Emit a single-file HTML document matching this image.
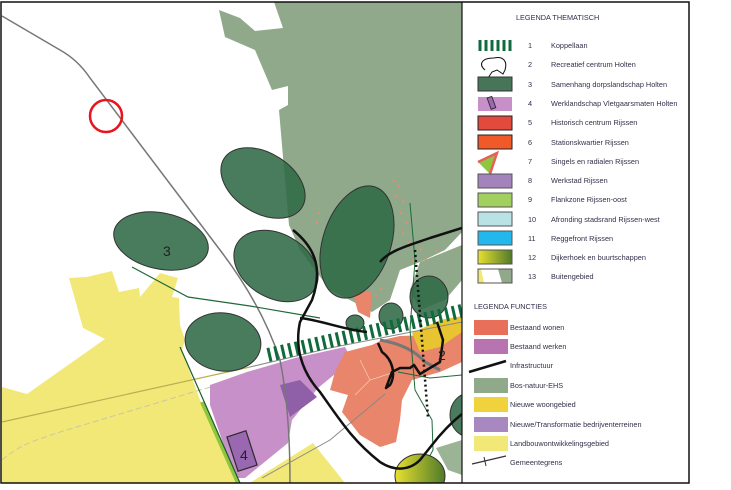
<!DOCTYPE html>
<html><head><meta charset="utf-8"><style>
html,body{margin:0;padding:0;background:#fff;}
svg{display:block;font-family:"Liberation Sans",sans-serif;}
.t{font-size:7.3px;fill:#332f4a;}
</style></head><body>
<svg width="731" height="490" viewBox="0 0 731 490" xmlns="http://www.w3.org/2000/svg">
<defs>
<linearGradient id="g12" x1="0" x2="1"><stop offset="0" stop-color="#e8e030"/><stop offset="1" stop-color="#4f7a2a"/></linearGradient>
<clipPath id="map"><rect x="1" y="2" width="461" height="481"/></clipPath>
</defs>
<rect width="731" height="490" fill="#fff"/>
<g clip-path="url(#map)">
<polygon fill="#8fa98a" points="274,2 462,2 462,232 445,250 420,262 400,270 390,300 372,312 350,300 330,290 300,250 289,225 283,157 279,110 288,105 288,86 272,90 255,50 225,37 219,10 240,18 255,31 283,28"/>
<polygon fill="#8fa98a" points="420,262 462,245 462,280 445,300 420,310 410,290"/>
<polygon fill="#9cb496" points="436,448 462,440 462,475 448,470"/>
<polygon fill="#f2e878" points="69,278 87,277 112,271 119,292 139,288 140,297 160,273 178,278 172,297 179,298 180,325 185,340 182,350 200,400 240,483 2,483 2,387 27,394 105,339 83,328"/>
<polygon fill="#f2e878" points="262,475 313,443 345,483 250,483"/>
<line x1="2" y1="422" x2="250" y2="367" stroke="#b8ae50" stroke-width="1.2"/>
<path d="M2,460 C20,445 30,442 60,432 L200,390 L345,350" fill="none" stroke="#c8c8a0" stroke-width="1" stroke-dasharray="6,3"/>
<polygon fill="#c890c8" points="210,385 247,372 295,358 345,347 352,360 318,388 292,420 288,443 245,478 235,478 210,405"/>
<polygon fill="#8f60a8" points="280,385 300,380 317,397 290,417"/>
<rect x="232" y="433" width="20" height="36" fill="#9a68b0" stroke="#2a2a2a" stroke-width="1.2" transform="rotate(-18 242 451)"/>
<polygon fill="#e8856a" points="345,352 372,345 382,340 400,336 430,335 445,330 462,325 462,362 440,372 412,380 402,400 400,420 396,442 380,447 360,435 342,412 348,395 330,390 335,372"/>
<polygon fill="#e8c431" points="412,333 440,320 462,316 462,332 440,347 420,352"/>
<polygon fill="#e8856a" points="352,290 372,292 370,318 358,312"/>
<path d="M360,360 L370,380 L355,395 M370,380 L395,372" stroke="#f4c8b8" stroke-width="0.8" fill="none"/>
<g fill="#ec8a68">
<rect x="393" y="180" width="2" height="2"/><rect x="398" y="185" width="2" height="2"/><rect x="395" y="195" width="2" height="2"/><rect x="402" y="200" width="2" height="2"/><rect x="400" y="212" width="2" height="2"/><rect x="405" y="222" width="2" height="2"/><rect x="402" y="232" width="2" height="2"/><rect x="407" y="242" width="2" height="2"/><rect x="342" y="200" width="2" height="2"/><rect x="335" y="215" width="2" height="2"/><rect x="330" y="230" width="2" height="2"/><rect x="316" y="222" width="2" height="2"/><rect x="318" y="212" width="2" height="2"/><rect x="385" y="205" width="2" height="2"/><rect x="388" y="225" width="2" height="2"/><rect x="390" y="245" width="2" height="2"/><rect x="420" y="248" width="2" height="2"/><rect x="425" y="258" width="2" height="2"/><rect x="435" y="250" width="2" height="2"/><rect x="380" y="288" width="2" height="2"/><rect x="375" y="295" width="2" height="2"/><rect x="412" y="260" width="2" height="2"/>
</g>
<path d="M2,16 L60,50 Q78,60 90,78 L220,250 Q262,305 280,360 Q290,410 290,483" fill="none" stroke="#777" stroke-width="1.5"/>
<path d="M250,367 L330,348 L462,322" fill="none" stroke="#888" stroke-width="1"/>
<path d="M262,478 L330,440 L385,394" fill="none" stroke="#888" stroke-width="1"/>
<path d="M380,340 Q410,345 425,362 L440,370" fill="none" stroke="#777" stroke-width="3"/>
<path d="M132,267 L188,297 L250,306 L320,318" fill="none" stroke="#1f6a3a" stroke-width="1.2"/>
<line x1="202" y1="402" x2="238" y2="483" stroke="#8dc63f" stroke-width="4"/>
<line x1="180" y1="347" x2="240" y2="483" stroke="#1f5a30" stroke-width="1.2"/>
<path d="M410,203 L415,260 L410,330 L415,390 L432,420 L433,450 L415,483" fill="none" stroke="#1f6a3a" stroke-width="1"/>
<path d="M398,372 L430,378 L462,375" fill="none" stroke="#1f6a3a" stroke-width="1"/>
<g fill="#2f6a46" fill-opacity="0.88" stroke="#333" stroke-width="1">
<ellipse cx="263" cy="183" rx="46" ry="30" transform="rotate(32 263 183)"/>
<ellipse cx="161" cy="241" rx="48" ry="28" transform="rotate(12 161 241)"/>
<ellipse cx="276" cy="266" rx="45" ry="32" transform="rotate(30 276 266)"/>
<ellipse cx="357" cy="242" rx="34" ry="58" transform="rotate(18 357 242)"/>
<ellipse cx="223" cy="342" rx="38" ry="29" transform="rotate(8 223 342)"/>
<ellipse cx="355" cy="323" rx="9" ry="8"/>
<ellipse cx="391" cy="316" rx="12" ry="13"/>
<ellipse cx="429" cy="297" rx="19" ry="21"/>
<ellipse cx="470" cy="415" rx="20" ry="22"/>
</g>
<ellipse cx="420" cy="476" rx="25" ry="22" fill="url(#g12)" stroke="#333" stroke-width="1"/>
<line x1="268" y1="355" x2="462" y2="311" stroke="#106b3c" stroke-width="14" stroke-dasharray="3,4"/>
<g fill="none" stroke="#111" stroke-width="2.5" stroke-linejoin="round">
<path d="M293,230 C318,250 322,272 312,300 L300,322 C295,345 300,370 320,392 C340,420 352,440 380,462 C395,472 410,470 420,460 L432,445 C442,432 452,422 462,414"/>
<path d="M300,318 C320,320 345,330 367,332"/>
<path d="M380,262 C390,250 410,245 430,238 L462,228"/>
<path d="M378,343 L382,352 C393,360 396,375 390,385 L386,388 L392,372 L400,368 L410,368 L414,365 L420,374 L440,362 L443,340 L437,322"/>
</g>
<line x1="415" y1="250" x2="428" y2="418" stroke="#111" stroke-width="2.5" stroke-dasharray="2,3"/>
<text x="163" y="256" font-size="14" fill="#222">3</text>
<text x="240" y="460" font-size="14" fill="#222">4</text>
<text x="438" y="360" font-size="14" fill="#222">2</text>
<circle cx="106" cy="116" r="16" fill="none" stroke="#e8141e" stroke-width="2.5"/>
</g>
<rect x="1" y="2" width="688" height="481" fill="none" stroke="#111" stroke-width="1.5"/>
<line x1="462" y1="2" x2="462" y2="483" stroke="#111" stroke-width="1.2"/>
<text class="t" x="516" y="20">LEGENDA THEMATISCH</text>
<g stroke="#106b3c" stroke-width="3"><line x1="480" y1="40" x2="480" y2="51"/><line x1="486" y1="40" x2="486" y2="51"/><line x1="492" y1="40" x2="492" y2="51"/><line x1="498" y1="40" x2="498" y2="51"/><line x1="504" y1="40" x2="504" y2="51"/><line x1="510" y1="40" x2="510" y2="51"/></g>
<path d="M485,70 C478,64 482,58 494,58 C502,56 508,60 505,70 L503,74 L497,70 L492,72 L488,78" fill="none" stroke="#111" stroke-width="1"/>
<rect x="478" y="77" width="34" height="14" fill="#477558" stroke="#333"/>
<rect x="478" y="97" width="34" height="14" fill="#c890c8"/>
<rect x="489" y="97" width="5" height="12" fill="#9a68b0" stroke="#222" stroke-width="0.8" transform="rotate(-20 491 103)"/>
<rect x="478" y="116" width="34" height="14" fill="#e24a3c" stroke="#222"/>
<rect x="478" y="135" width="34" height="14" fill="#f05a28" stroke="#222"/>
<polygon points="478,162 497,153 490,174" fill="#8dc63f"/>
<path d="M478,162 L497,153 L490,174" fill="none" stroke="#e8605a" stroke-width="2.5"/>
<rect x="478" y="174" width="34" height="14" fill="#a283bc" stroke="#555"/>
<rect x="478" y="193" width="34" height="14" fill="#a2d060" stroke="#555"/>
<rect x="478" y="212" width="34" height="14" fill="#b8e2e6" stroke="#555"/>
<rect x="478" y="231" width="34" height="14" fill="#22b8ee" stroke="#555"/>
<rect x="478" y="250" width="34" height="14" fill="url(#g12)" stroke="#555"/>
<rect x="478" y="269" width="34" height="14" fill="#8fa98a" stroke="#555"/>
<polygon points="478,269 498,269 502,283 483,283" fill="#fff"/>
<polygon points="478,269 481,269 484,283 478,283" fill="#f2e878"/>
<rect x="478" y="269" width="34" height="14" fill="none" stroke="#555"/>
<g class="t">
<text x="528" y="48">1</text><text x="551" y="48">Koppellaan</text>
<text x="528" y="67">2</text><text x="551" y="67">Recreatief centrum Holten</text>
<text x="528" y="87">3</text><text x="551" y="87">Samenhang dorpslandschap Holten</text>
<text x="528" y="106">4</text><text x="551" y="106">Werklandschap Vletgaarsmaten Holten</text>
<text x="528" y="125">5</text><text x="551" y="125">Historisch centrum Rijssen</text>
<text x="528" y="145">6</text><text x="551" y="145">Stationskwartier Rijssen</text>
<text x="528" y="164">7</text><text x="551" y="164">Singels en radialen Rijssen</text>
<text x="528" y="183">8</text><text x="551" y="183">Werkstad Rijssen</text>
<text x="528" y="202">9</text><text x="551" y="202">Flankzone Rijssen-oost</text>
<text x="528" y="222">10</text><text x="551" y="222">Afronding stadsrand Rijssen-west</text>
<text x="528" y="241">11</text><text x="551" y="241">Reggefront Rijssen</text>
<text x="528" y="260">12</text><text x="551" y="260">Dijkerhoek en buurtschappen</text>
<text x="528" y="279">13</text><text x="551" y="279">Buitengebied</text>
</g>
<text class="t" x="474" y="309">LEGENDA FUNCTIES</text>
<rect x="474" y="320" width="34" height="15" fill="#e8705a"/>
<rect x="474" y="339" width="34" height="15" fill="#b874b0"/>
<line x1="469" y1="372" x2="506" y2="361" stroke="#111" stroke-width="2.5"/>
<rect x="474" y="378" width="34" height="15" fill="#8fa98a"/>
<rect x="474" y="397" width="34" height="15" fill="#efd23c"/>
<rect x="474" y="417" width="34" height="15" fill="#a888c0"/>
<rect x="474" y="436" width="34" height="15" fill="#f2e878"/>
<line x1="472" y1="464" x2="506" y2="456" stroke="#333" stroke-width="1.2"/>
<line x1="484" y1="457" x2="486" y2="466" stroke="#333" stroke-width="1"/>
<g class="t">
<text x="510" y="330">Bestaand wonen</text>
<text x="510" y="349">Bestaand werken</text>
<text x="510" y="368">Infrastructuur</text>
<text x="510" y="388">Bos-natuur-EHS</text>
<text x="510" y="407">Nieuwe woongebied</text>
<text x="510" y="427">Nieuwe/Transformatie bedrijventerreinen</text>
<text x="510" y="446">Landbouwontwikkelingsgebied</text>
<text x="510" y="465">Gemeentegrens</text>
</g>
</svg>
</body></html>
